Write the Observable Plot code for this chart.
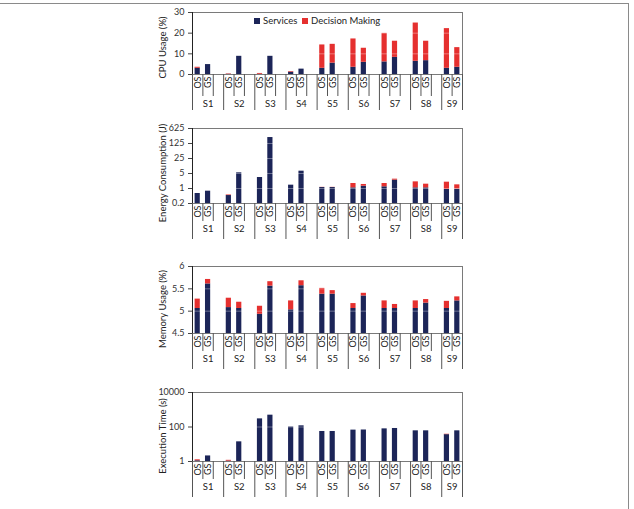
<!DOCTYPE html>
<html><head><meta charset="utf-8">
<script src="https://cdn.jsdelivr.net/npm/d3@7"></script>
<script src="https://cdn.jsdelivr.net/npm/@observablehq/plot@0.6"></script>
<style>
body{margin:0;background:#fff;font-family:Lato,sans-serif;}
#root{position:relative;width:634px;height:509px;overflow:hidden;}
.panel{position:absolute;left:0;}
#border{position:absolute;left:-4px;top:3px;width:632px;height:520px;border-top:1.5px solid #8a8a8a;border-right:1.5px solid #8a8a8a;}
.legend{position:absolute;top:15px;font-size:9.5px;color:#222;display:flex;align-items:center;line-height:12px;}
.sw{display:inline-block;width:6px;height:6px;margin-right:3px;}
</style></head><body><div id="root"><div id="border"></div></div>
<script>
const groups = ["S1","S2","S3","S4","S5","S6","S7","S8","S9"];
const schemes = ["OS","GS"];
const seriesNames = ["Services","Decision Making"];
// values ordered S1-OS, S1-GS, S2-OS, S2-GS, ...
const cpuServices = [3.0,4.8, 0.1,8.8, 0.1,8.8, 1.1,2.6, 3.0,5.5, 3.5,5.9, 6.1,8.3, 6.4,6.7, 3.0,3.5];
const cpuDecision = [0.5,0, 0.2,0, 0.4,0, 0.3,0, 11.3,9.1, 13.7,6.8, 13.8,7.8, 18.5,9.4, 19.2,9.5];
const energyServices = [0.585,0.75, 0.47,5.37, 3.25,237, 1.43,6.42, 1.11,1.11, 1.07,1.28, 1.2,2.45, 1.07,1.07, 0.9,0.93];
const energyDecision = [0,0, 0.03,0, 0,0, 0,0, 0.02,0.02, 0.64,0.26, 0.51,0.27, 0.97,0.52, 1.07,0.55];
const memServices = [5.06,5.61, 5.08,5.06, 4.93,5.56, 5.03,5.57, 5.38,5.38, 5.06,5.34, 5.06,5.06, 5.06,5.18, 5.06,5.23];
const memDecision = [0.21,0.10, 0.21,0.14, 0.18,0.10, 0.20,0.11, 0.13,0.08, 0.11,0.06, 0.17,0.09, 0.17,0.08, 0.16,0.09];
const timeServices = [1.1,2.1, 1.05,13.8, 296,485, 100,117, 55,55, 66,67, 78,82, 60,60, 36,60];
const timeDecision = [0.15,0, 0.12,0, 0,0, 0,0, 0,0, 0,0, 0,0, 0,0, 2,0];

const cpuTicks = [0,10,20,30];
const energyTicks = [0.2,1,5,25,125,625];
const memTicks = [4.5,5,5.5,6];
const timeTicks = [1,100,10000];

const NAVY = "#1c2558", RED = "#e5302f";
const NSLOT = 26;

function rows(services, decision, base) {
  const out = [];
  groups.forEach((g, gi) => schemes.forEach((s, si) => {
    const i = gi * 2 + si, slot = gi * 3 + si;
    out.push({slot, series: seriesNames[0], y1: base, y2: services[i]});
    if (decision[i] > 0) out.push({slot, series: seriesNames[1], y1: services[i], y2: services[i] + decision[i]});
  }));
  return out;
}

function panel({top, height, mTop, mBottom, y, ticks, fmt, title, titleDy, data, base, shortLen, grid}) {
  const slotLabels = [];
  groups.forEach((g, gi) => schemes.forEach((s, si) => slotLabels.push({x: gi * 3 + si + 0.5, label: s})));
  const shortB = d3.range(NSLOT).filter(i => i % 3 !== 0);
  const longB = d3.range(0, NSLOT, 3).concat([NSLOT]);
  const groupLabels = groups.map((g, i) => ({x: i === groups.length - 1 ? i * 3 + 1 : i * 3 + 1.5, label: g}));
  const chart = Plot.plot({
    width: 634, height,
    marginLeft: 192, marginRight: 172, marginTop: mTop, marginBottom: mBottom,
    style: {fontFamily: "Lato, sans-serif", fontSize: "9px", color: "#333", background: "transparent"},
    x: {domain: [0, NSLOT], axis: null, label: null},
    y: {...y, axis: null, label: null},
    color: {domain: seriesNames, range: [NAVY, RED]},
    marks: [
      Plot.rect(rows(data[0], data[1], base), {x1: d => d.slot + 0.25, x2: d => d.slot + 0.75, y1: "y1", y2: "y2", fill: "series"}),
      Plot.ruleY(grid, {stroke: "#fff", strokeOpacity: 0.35}),
      Plot.frame({stroke: "#7a7a7a"}),
      Plot.axisY(ticks, {tickSize: 4, tickPadding: 4, tickFormat: fmt, stroke: "#444", fontSize: 9, label: null}),
      Plot.ruleX([0], {stroke: "#222"}),
      Plot.axisX(shortB, {tickSize: shortLen, tickFormat: () => "", stroke: "#555", label: null}),
      Plot.axisX(longB, {tickSize: 36, tickFormat: () => "", stroke: "#555", label: null}),
      Plot.text(slotLabels, {x: "x", text: "label", frameAnchor: "bottom", dy: 2, rotate: -90,
        textAnchor: "end", lineAnchor: "middle", fontSize: 9, fill: "#222"}),
      Plot.text(groupLabels, {x: "x", text: "label", frameAnchor: "bottom", dy: shortLen + 7,
        textAnchor: "middle", lineAnchor: "middle", fontSize: 9.5, fill: "#222"}),
      Plot.text([title], {text: d => d, frameAnchor: "left", dx: -30, dy: titleDy, rotate: -90,
        textAnchor: "middle", lineAnchor: "middle", fontSize: 9.5, fill: "#222"})
    ]
  });
  chart.classList.add("panel");
  chart.style.top = top + "px";
  chart.style.position = "absolute";
  document.getElementById("root").appendChild(chart);
}

panel({top: 0, height: 115, mTop: 12, mBottom: 41, y: {domain: [0, 30]}, ticks: cpuTicks, fmt: d => String(d),
  title: "CPU Usage (%)", titleDy: 4, data: [cpuServices, cpuDecision], base: 0, shortLen: 22, grid: [10, 20]});
panel({top: 115, height: 125, mTop: 13, mBottom: 37, y: {type: "log", base: 5, domain: [0.2, 625]}, ticks: energyTicks, fmt: d => String(d),
  title: "Energy Consumption (J)", titleDy: 7, data: [energyServices, energyDecision], base: 0.2, shortLen: 18, grid: [1, 5, 25, 125]});
panel({top: 240, height: 130, mTop: 26, mBottom: 37, y: {domain: [4.5, 6]}, ticks: memTicks, fmt: d => String(d),
  title: "Memory Usage (%)", titleDy: 9, data: [memServices, memDecision], base: 4.5, shortLen: 18, grid: [5, 5.5]});
panel({top: 370, height: 139, mTop: 22, mBottom: 48, y: {type: "log", domain: [1, 10000]}, ticks: timeTicks, fmt: d => String(d),
  title: "Execution Time (s)", titleDy: 9, data: [timeServices, timeDecision], base: 1, shortLen: 18, grid: [100]});

// legend (inside the top panel)
const root = document.getElementById("root");
[[seriesNames[0], NAVY, 254], [seriesNames[1], RED, 302]].forEach(([name, c, x]) => {
  const el = document.createElement("div");
  el.className = "legend";
  el.style.left = x + "px";
  el.innerHTML = `<span class="sw" style="background:${c}"></span>${name}`;
  root.appendChild(el);
});
</script></body></html>
